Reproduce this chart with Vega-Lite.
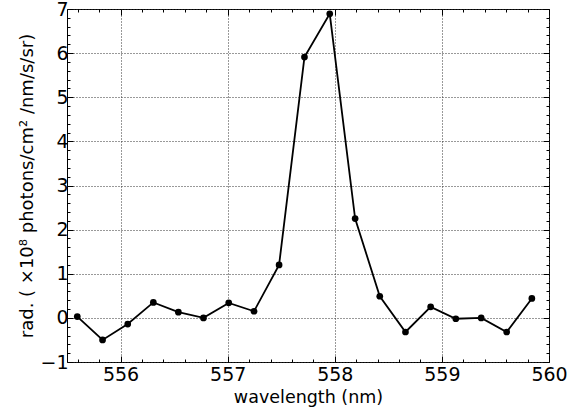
{
  "$schema": "https://vega.github.io/schema/vega-lite/v6.json",
  "width": 482,
  "height": 353,
  "autosize": {"type": "none"},
  "padding": {"left": 67, "top": 9, "right": 22, "bottom": 49},
  "background": "white",
  "config": {
    "view": {"stroke": "black", "strokeWidth": 1},
    "font": "DejaVu Sans",
    "axis": {"labelFont": "DejaVu Sans", "titleFont": "DejaVu Sans", "labelColor": "black", "titleColor": "black", "titleFontWeight": "normal", "domain": false, "tickColor": "black", "gridColor": "#333333", "gridDash": [1, 2], "gridOpacity": 1, "gridWidth": 1}
  },
  "data": {"values": [
    {"wl": 555.596, "rad": 0.03},
    {"wl": 555.832, "rad": -0.50},
    {"wl": 556.067, "rad": -0.14},
    {"wl": 556.306, "rad": 0.35},
    {"wl": 556.540, "rad": 0.13},
    {"wl": 556.774, "rad": 0.0},
    {"wl": 557.010, "rad": 0.34},
    {"wl": 557.246, "rad": 0.15},
    {"wl": 557.480, "rad": 1.20},
    {"wl": 557.717, "rad": 5.91},
    {"wl": 557.953, "rad": 6.89},
    {"wl": 558.190, "rad": 2.25},
    {"wl": 558.420, "rad": 0.49},
    {"wl": 558.660, "rad": -0.32},
    {"wl": 558.895, "rad": 0.25},
    {"wl": 559.130, "rad": -0.02},
    {"wl": 559.367, "rad": 0.0},
    {"wl": 559.605, "rad": -0.32},
    {"wl": 559.840, "rad": 0.44}
  ]},
  "resolve": {"axis": {"x": "independent", "y": "independent"}},
  "layer": [
    {
      "mark": {"type": "line", "color": "black", "strokeWidth": 1.8},
      "encoding": {
        "x": {"field": "wl", "type": "quantitative", "scale": {"domain": [555.5, 560], "nice": false, "zero": false},
          "axis": {"orient": "bottom", "values": [556, 557, 558, 559, 560], "format": "d", "grid": true, "tickSize": -6, "tickWidth": 1, "labelPadding": 9, "labelFontSize": 19, "title": "wavelength (nm)", "titleFontSize": 17.5, "titlePadding": 4, "labelFlush": false}},
        "y": {"field": "rad", "type": "quantitative", "scale": {"domain": [-1, 7], "nice": false, "zero": false},
          "axis": {"orient": "left", "values": [-1, 0, 1, 2, 3, 4, 5, 6, 7], "grid": true, "tickSize": -6, "tickWidth": 1, "labelPadding": 5, "labelFontSize": 19, "title": "rad. ( ×10⁸ photons/cm² /nm/s/sr)", "titleFontSize": 18, "titlePadding": 3, "labelFlush": false}}
      }
    },
    {
      "mark": {"type": "point", "filled": true, "color": "black", "size": 45, "opacity": 1},
      "encoding": {
        "x": {"field": "wl", "type": "quantitative", "scale": {"domain": [555.5, 560], "nice": false, "zero": false},
          "axis": {"orient": "top", "values": [556, 557, 558, 559, 560], "labels": false, "grid": false, "tickSize": -6, "title": null}},
        "y": {"field": "rad", "type": "quantitative", "scale": {"domain": [-1, 7], "nice": false, "zero": false},
          "axis": {"orient": "right", "values": [-1, 0, 1, 2, 3, 4, 5, 6, 7], "labels": false, "grid": false, "tickSize": -6, "title": null}}
      }
    },
    {
      "mark": {"type": "line", "opacity": 0},
      "encoding": {
        "x": {"field": "wl", "type": "quantitative", "scale": {"domain": [555.5, 560], "nice": false, "zero": false},
          "axis": {"orient": "bottom", "values": [555.6, 555.8, 556.2, 556.4, 556.6, 556.8, 557.2, 557.4, 557.6, 557.8, 558.2, 558.4, 558.6, 558.8, 559.2, 559.4, 559.6, 559.8], "labels": false, "grid": false, "tickSize": -3, "title": null}},
        "y": {"field": "rad", "type": "quantitative", "scale": {"domain": [-1, 7], "nice": false, "zero": false},
          "axis": {"orient": "left", "values": [-0.8, -0.6, -0.4, -0.2, 0.2, 0.4, 0.6, 0.8, 1.2, 1.4, 1.6, 1.8, 2.2, 2.4, 2.6, 2.8, 3.2, 3.4, 3.6, 3.8, 4.2, 4.4, 4.6, 4.8, 5.2, 5.4, 5.6, 5.8, 6.2, 6.4, 6.6, 6.8], "labels": false, "grid": false, "tickSize": -3, "title": null}}
      }
    },
    {
      "mark": {"type": "point", "opacity": 0},
      "encoding": {
        "x": {"field": "wl", "type": "quantitative", "scale": {"domain": [555.5, 560], "nice": false, "zero": false},
          "axis": {"orient": "top", "values": [555.6, 555.8, 556.2, 556.4, 556.6, 556.8, 557.2, 557.4, 557.6, 557.8, 558.2, 558.4, 558.6, 558.8, 559.2, 559.4, 559.6, 559.8], "labels": false, "grid": false, "tickSize": -3, "title": null}},
        "y": {"field": "rad", "type": "quantitative", "scale": {"domain": [-1, 7], "nice": false, "zero": false},
          "axis": {"orient": "right", "values": [-0.8, -0.6, -0.4, -0.2, 0.2, 0.4, 0.6, 0.8, 1.2, 1.4, 1.6, 1.8, 2.2, 2.4, 2.6, 2.8, 3.2, 3.4, 3.6, 3.8, 4.2, 4.4, 4.6, 4.8, 5.2, 5.4, 5.6, 5.8, 6.2, 6.4, 6.6, 6.8], "labels": false, "grid": false, "tickSize": -3, "title": null}}
      }
    }
  ]
}
